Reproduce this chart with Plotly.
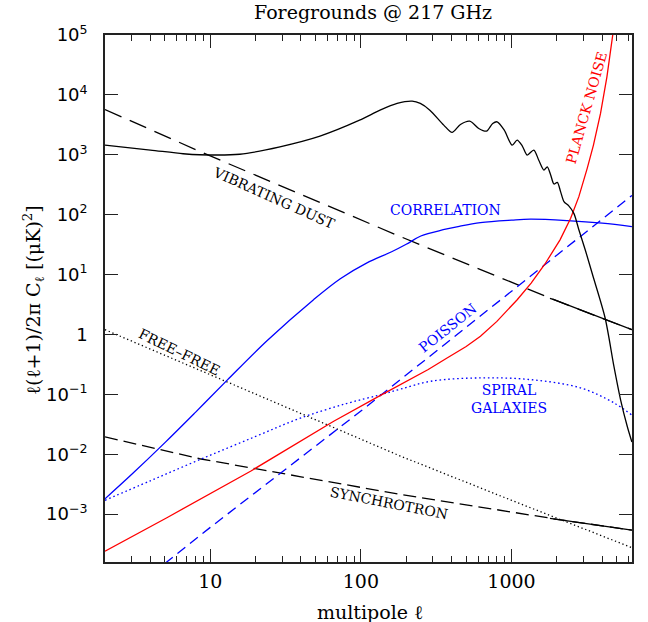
import numpy as np
import plotly.graph_objects as go

# ---------------- data ----------------
cmb_ell = [2, 4, 6.6, 8.5, 15.7, 29, 53.5, 98, 134, 174, 219, 248, 287, 355, 403, 458, 528, 606, 682,
           750, 803, 895, 1010, 1090, 1180, 1270, 1406, 1520, 1640, 1727, 1820, 1913, 2014, 2120, 2230,
           2400, 2594, 2800, 3100, 3450, 4180, 4790, 5300, 5870, 6300]
cmb_val = [1450, 1200, 1040, 1000, 1020, 1360, 2050, 3780, 5560, 7200, 7850, 7200, 5560, 3130, 2360, 3210,
           3650, 2750, 2480, 3340, 3550, 2580, 1450, 1760, 1400, 990, 1200, 800, 556, 630, 460, 325, 347,
           240, 165, 140, 105, 56, 25, 10, 1.9, 0.29, 0.081, 0.029, 0.016]

dust_ell = [2, 9, 183, 1800, 1913, 6300]
dust_val = [5700, 1070, 43, 4.0, 3.8, 1.2]

sync_ell = [2, 8.5, 40, 183, 1727, 1800, 6300]
sync_val = [0.0195, 0.0084, 0.0042, 0.00213, 8.7e-4, 8.5e-4, 5.4e-4]

ff_ell = [2, 20, 183, 1000, 6300]
ff_val = [1.2, 0.1, 0.0093, 0.0017, 2.75e-4]

corr_ell = [2, 3, 5, 8, 13, 24, 48.5, 73, 109, 160, 200, 250, 352, 450, 622, 1000, 1337, 2345, 4000, 6300]
corr_val = [0.0018, 0.00457, 0.0156, 0.0505, 0.174, 0.80, 3.8, 8.5, 15.5, 24, 32, 44, 56, 64, 73.6, 81, 84,
            79.5, 72, 63]

poisson_ell = [5, 10, 100, 1000, 6300]
poisson_val = [1.5e-4, 6.0e-4, 0.0526, 5.26, 209]

spiral_ell = [2, 4, 8.6, 20, 39.6, 80, 134, 183, 290, 622, 1337, 2870, 4790, 6300]
spiral_val = [0.0017, 0.0036, 0.0082, 0.0198, 0.040, 0.07, 0.098, 0.122, 0.165, 0.188, 0.176, 0.128, 0.072, 0.045]

noise_ell = [2, 5.15, 18.5, 66, 134, 183, 280, 371, 500, 622, 800, 1091, 1350, 1668, 2100, 2470, 2800,
             3185, 3500, 3900, 4300, 4700, 4900]
noise_val = [2.4e-4, 8.7e-4, 0.0052, 0.0355, 0.095, 0.145, 0.26, 0.40, 0.63, 0.93, 1.65, 3.8, 7.2, 15, 38,
             87, 200, 600, 1450, 4900, 20000, 1.0e5, 2.0e5]

x_tickvals = [10, 100, 1000]
x_ticktext = ["10", "100", "1000"]
x_minor = [2, 3, 4, 5, 6, 7, 8, 9, 20, 30, 40, 50, 60, 70, 80, 90,
           200, 300, 400, 500, 600, 700, 800, 900, 2000, 3000, 4000, 5000, 6000]
y_tickvals = [1e-3, 1e-2, 1e-1, 1, 10, 1e2, 1e3, 1e4, 1e5]
y_ticktext = ["10<sup>\u22123</sup>", "10<sup>\u22122</sup>", "10<sup>\u22121</sup>", "1",
              "10<sup>1</sup>", "10<sup>2</sup>", "10<sup>3</sup>", "10<sup>4</sup>", "10<sup>5</sup>"]

BLACK = "#000000"
RED = "#ff0000"
BLUE = "#0000ff"
SERIF = "DejaVu Serif"

fig = go.Figure()

def add(x, y, color, dash="solid", shape="linear", width=1.3, smoothing=1.0):
    line = dict(color=color, width=width, dash=dash, shape=shape)
    if shape == "spline":
        line["smoothing"] = smoothing
    fig.add_trace(go.Scatter(x=x, y=y, mode="lines", line=line, hoverinfo="skip"))

add(ff_ell, ff_val, BLACK, dash="1.3px,2.7px")
add(sync_ell, sync_val, BLACK, dash="13px,6px")
add(sync_ell[-2:], sync_val[-2:], BLACK)
add(dust_ell, dust_val, BLACK, dash="18px,9px")
add(dust_ell[-3:], dust_val[-3:], BLACK)
add(spiral_ell, spiral_val, BLUE, dash="1.6px,2.8px", shape="spline")
add(poisson_ell, poisson_val, BLUE, dash="10px,6px")
add(corr_ell, corr_val, BLUE, shape="spline")
add(noise_ell, noise_val, RED)
add(cmb_ell, cmb_val, BLACK, shape="spline", smoothing=0.8)

def lab(text, lx, ly, color, angle=0, size=14):
    fig.add_annotation(x=np.log10(lx), y=np.log10(ly), xref="x", yref="y", text=text,
                       showarrow=False, textangle=angle,
                       font=dict(family=SERIF, size=size, color=color))

lab("VIBRATING DUST", 10 ** 1.425, 10 ** 2.278, BLACK, angle=24)
lab("CORRELATION", 10 ** 2.561, 10 ** 2.078, BLUE)
lab("PLANCK NOISE", 10 ** 3.498, 10 ** 3.778, RED, angle=-74)
lab("POISSON", 10 ** 2.575, 10 ** 0.112, BLUE, angle=-38.6)
lab("SPIRAL<br>GALAXIES", 10 ** 2.98, 10 ** -1.072, BLUE)
lab("FREE\u2013FREE", 10 ** 0.794, 10 ** -0.297, BLACK, angle=26)
lab("SYNCHROTRON", 10 ** 2.189, 10 ** -2.822, BLACK, angle=11)

# titles
fig.add_annotation(text="Foregrounds @ 217 GHz", xref="paper", yref="paper",
                   x=(373 - 105) / 527, y=1 + (35 - 12) / 527, showarrow=False,
                   xanchor="center", yanchor="middle",
                   font=dict(family=SERIF, size=19, color=BLACK))
fig.add_annotation(text="multipole \u2113", xref="paper", yref="paper",
                   x=(370 - 105) / 527, y=-(612 - 562) / 527, showarrow=False,
                   xanchor="center", yanchor="middle",
                   font=dict(family=SERIF, size=19, color=BLACK))
fig.add_annotation(text="\u2113(\u2113+1)/2\u03c0\u00a0C<sub>\u2113</sub>\u00a0[(\u03bcK)<sup>2</sup>]",
                   xref="paper", yref="paper",
                   x=-(105 - 33) / 527, y=(562 - 300) / 527, showarrow=False, textangle=-90,
                   xanchor="center", yanchor="middle",
                   font=dict(family=SERIF, size=19, color=BLACK))

axcol = "#222222"
fig.update_layout(
    width=648, height=622,
    margin=dict(l=105, r=16, t=35, b=60),
    plot_bgcolor="white", paper_bgcolor="white",
    showlegend=False,
    xaxis=dict(type="log", range=[np.log10(2), 3.8], showgrid=False, zeroline=False,
               showline=True, linecolor=axcol, linewidth=1.6, mirror="ticks",
               ticks="inside", ticklen=13, tickwidth=1.3, tickcolor=axcol,
               tickvals=x_tickvals, ticktext=x_ticktext, ticklabelstandoff=1,
               tickfont=dict(family=SERIF, size=19, color=BLACK),
               minor=dict(ticks="inside", ticklen=6, tickwidth=1.3, tickcolor=axcol,
                          tickvals=x_minor, showgrid=False)),
    yaxis=dict(type="log", range=[-3.8, 5], showgrid=False, zeroline=False,
               showline=True, linecolor=axcol, linewidth=1.6, mirror="ticks",
               ticks="inside", ticklen=13, tickwidth=1.3, tickcolor=axcol,
               tickvals=y_tickvals, ticktext=y_ticktext, ticklabelstandoff=12,
               tickfont=dict(family="DejaVu Sans", size=18, color=BLACK)),
)

fig.write_html("out.html")
